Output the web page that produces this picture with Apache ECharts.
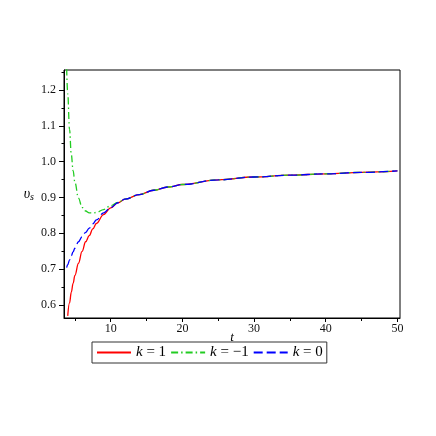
<!DOCTYPE html>
<html>
<head>
<meta charset="utf-8">
<script src="https://cdn.jsdelivr.net/npm/echarts@6/dist/echarts.min.js"></script>
<style>
  html, body { margin: 0; padding: 0; background: #fff; }
  #main { width: 436px; height: 436px; }
</style>
</head>
<body>
<div id="main"></div>
<script>
// t values shared by all three curves
var tValues = [3.85, 4, 4.25, 4.5, 4.75, 5, 5.5, 6, 6.5, 7, 7.5, 8, 9, 10, 11, 12, 14, 16, 18, 20, 25, 30, 35, 40, 45, 50];
// v_s for k = 1, -1, 0
var kPlus = [null, 0.569, 0.605, 0.635, 0.660, 0.682, 0.716, 0.749, 0.776, 0.793, 0.812, 0.827, 0.852, 0.871, 0.885, 0.895, 0.908, 0.920, 0.929, 0.936, 0.949, 0.957, 0.962, 0.966, 0.970, 0.974];
var kMinus = [1.26, 1.19, 1.09, 1.02, 0.975, 0.942, 0.898, 0.872, 0.862, 0.857, 0.856, 0.858, 0.866, 0.877, 0.886, 0.895, 0.908, 0.920, 0.929, 0.936, 0.949, 0.957, 0.962, 0.966, 0.970, 0.974];
var kZero = [0.704, 0.712, 0.725, 0.737, 0.748, 0.758, 0.776, 0.790, 0.802, 0.814, 0.826, 0.837, 0.857, 0.872, 0.885, 0.895, 0.908, 0.920, 0.929, 0.936, 0.949, 0.957, 0.962, 0.966, 0.970, 0.974];
var xLabels = [10, 20, 30, 40, 50];
var xMinor = [5, 15, 25, 35, 45];
var yLabels = [0.6, 0.7, 0.8, 0.9, 1.0, 1.1, 1.2];
var yMinor = [0.6, 0.65, 0.7, 0.75, 0.8, 0.85, 0.9, 0.95, 1.0, 1.05, 1.1, 1.15, 1.2, 1.25];

var serif = "'Liberation Serif', 'DejaVu Serif', serif";
var xMin = 3.48, xMax = 50.36, yMin = 0.563, yMax = 1.256;

function pairs(vals) {
  return tValues.map(function (t, i) { return [t, vals[i]]; });
}

var chart = echarts.init(document.getElementById("main"));
var option = {
  animation: false,
  grid: {
    left: 64, right: 36, top: 70, bottom: 118,
    show: true, borderColor: "#000", borderWidth: 1
  },
  legend: {
    left: 92, top: 342,
    orient: "horizontal",
    borderColor: "#333", borderWidth: 1,
    padding: [3, 4, 3, 4],
    itemGap: 4, itemWidth: 34, itemHeight: 12,
    itemStyle: { opacity: 0 },
    textStyle: {
      fontFamily: serif, fontSize: 15, color: "#000",
      rich: { i: { fontFamily: serif, fontSize: 15, fontStyle: "italic", color: "#000" } }
    },
    formatter: function (name) {
      return "{i|k} = " + name;
    },
    data: ["1", "\u22121", "0"]
  },
  xAxis: [
    {
      type: "value", min: xMin, max: xMax,
      name: "t", nameLocation: "middle", nameGap: 13, nameMoveOverlap: false,
      nameTextStyle: { fontFamily: serif, fontSize: 13, fontStyle: "italic", color: "#000", verticalAlign: "top" },
      axisLine: { onZero: false, lineStyle: { color: "#000" } },
      axisTick: { show: true, length: 4, customValues: xLabels, lineStyle: { color: "#000" } },
      axisLabel: { customValues: xLabels, margin: 5, fontFamily: serif, fontSize: 12, color: "#111" },
      splitLine: { show: false }
    },
    {
      type: "value", min: xMin, max: xMax, position: "bottom",
      axisLine: { show: false },
      axisTick: { show: true, length: 3, customValues: xMinor, lineStyle: { color: "#000" } },
      axisLabel: { show: false },
      splitLine: { show: false }
    }
  ],
  yAxis: [
    {
      type: "value", min: yMin, max: yMax,
      name: "{a|\u03c5}{b|s}", nameLocation: "middle", nameGap: 30, nameRotate: 0, nameMoveOverlap: false,
      nameTextStyle: {
        rich: {
          a: { fontFamily: serif, fontSize: 14, fontStyle: "italic", color: "#000" },
          b: { fontFamily: serif, fontSize: 10, fontStyle: "italic", color: "#000", verticalAlign: "bottom", padding: [6, 0, 0, 0] }
        }
      },
      axisLine: { onZero: false, lineStyle: { color: "#000" } },
      axisTick: { show: true, length: 5, customValues: yLabels, lineStyle: { color: "#000" } },
      axisLabel: {
        customValues: yLabels, margin: 8, fontFamily: serif, fontSize: 12, color: "#111",
        formatter: function (v) { return v.toFixed(1); }
      },
      splitLine: { show: false }
    },
    {
      type: "value", min: yMin, max: yMax, position: "left",
      axisLine: { show: false },
      axisTick: { show: true, length: 2.5, customValues: yMinor, lineStyle: { color: "#000" } },
      axisLabel: { show: false },
      splitLine: { show: false }
    }
  ],
  series: [
    {
      name: "1", type: "line", data: pairs(kPlus),
      symbol: "none", smooth: 0.4, smoothMonotone: "x",
      lineStyle: { color: "#ff0000", width: 1.3, type: "solid" },
      itemStyle: { color: "#ff0000" }
    },
    {
      name: "\u22121", type: "line", data: pairs(kMinus),
      symbol: "none", smooth: 0.4, smoothMonotone: "x",
      lineStyle: { color: "#22cc22", width: 1.3, type: [7, 3, 1.5, 3] },
      itemStyle: { color: "#22cc22" }
    },
    {
      name: "0", type: "line", data: pairs(kZero),
      symbol: "none", smooth: 0.4, smoothMonotone: "x",
      lineStyle: { color: "#0000ff", width: 1.3, type: [9, 4] },
      itemStyle: { color: "#0000ff" }
    }
  ]
};
chart.setOption(option);
</script>
</body>
</html>
